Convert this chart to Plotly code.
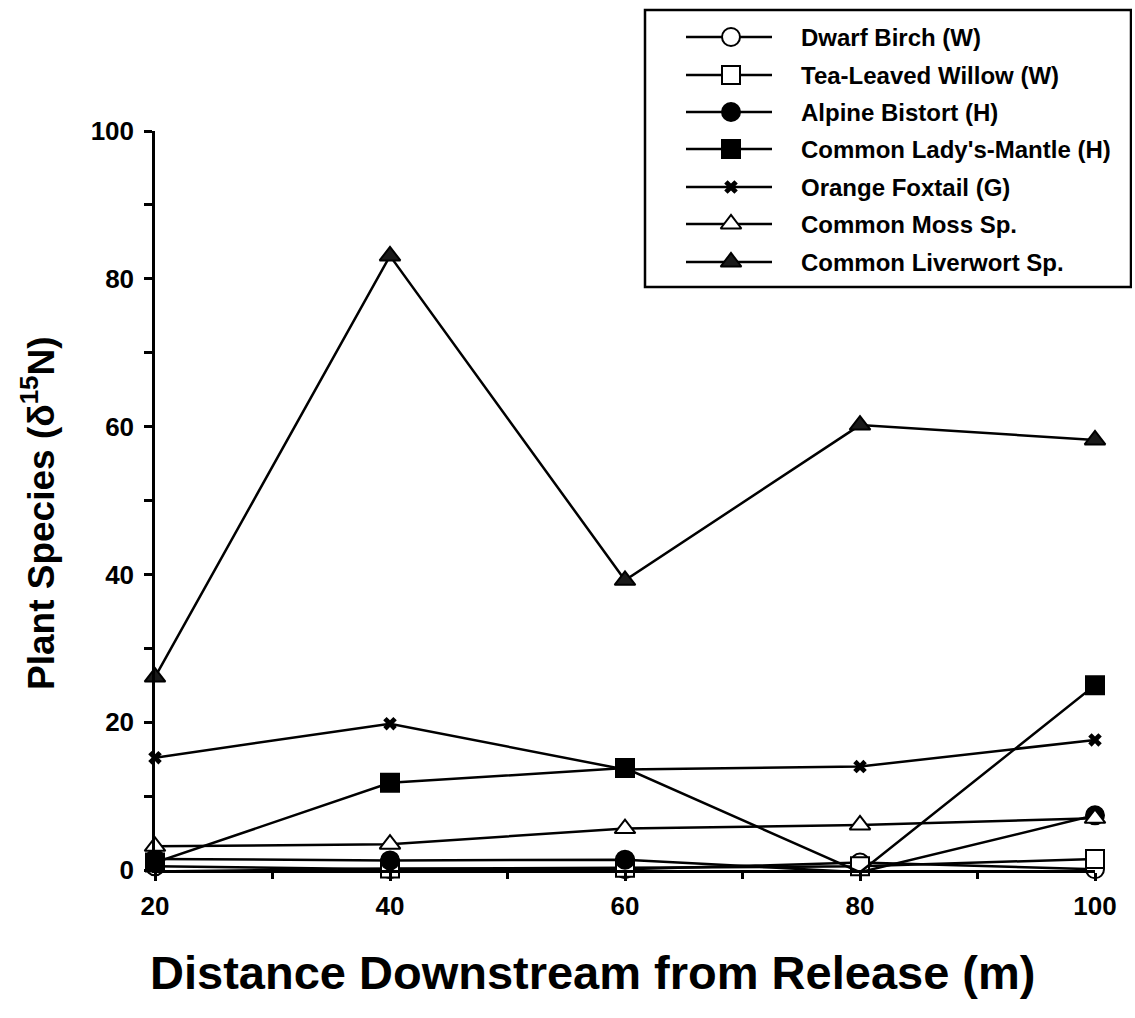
import plotly.graph_objects as go

# Distance downstream from the release point (m)
distance = [20, 40, 60, 80, 100]

# delta-15N values per plant species
dwarf_birch = [0.5, 0.1, 0.1, 1.0, 0.1]
tea_leaved_willow = [-0.2, 0.2, 0.3, 0.5, 1.5]
alpine_bistort = [1.5, 1.3, 1.4, -0.3, 7.4]
common_ladys_mantle = [1.0, 11.8, 13.8, -0.3, 25.0]
orange_foxtail = [15.2, 19.8, 13.6, 14.0, 17.6]
common_moss = [3.2, 3.5, 5.6, 6.1, 7.0]
common_liverwort = [26.1, 83.1, 39.2, 60.2, 58.2]

series_names = [
    "Dwarf Birch (W)",
    "Tea-Leaved Willow (W)",
    "Alpine Bistort (H)",
    "Common Lady's-Mantle (H)",
    "Orange Foxtail (G)",
    "Common Moss Sp.",
    "Common Liverwort Sp.",
]
series_values = [
    dwarf_birch,
    tea_leaved_willow,
    alpine_bistort,
    common_ladys_mantle,
    orange_foxtail,
    common_moss,
    common_liverwort,
]

x_ticks = [20, 40, 60, 80, 100]
y_ticks = [0, 20, 40, 60, 80, 100]

# marker styling: (symbol, fill, size, outline width)
styles = [
    ("circle", "white", 18, 2),
    ("square", "white", 18, 2),
    ("circle", "black", 18, 2),
    ("square", "black", 18, 2),
    ("x", "black", 12, 0),
    ("triangle-up", "white", 18, 2),
    ("triangle-up", "#1a1a1a", 18, 2),
]

FONT = "Liberation Sans, Arial, sans-serif"
W, H = 1135, 1018
# pixel frame of the overlay axes (their units are pixels)
L, R, T, B = 155, 3, 5, 148
plot_left, plot_right, plot_top, plot_bottom = 155, 1095, 131, 870

fig = go.Figure()

for name, vals, (sym, fill, size, lw) in zip(series_names, series_values, styles):
    fig.add_trace(go.Scatter(
        x=distance, y=vals, name=name, mode="lines+markers",
        line=dict(color="black", width=2.5),
        marker=dict(symbol=sym, color=fill, size=size, line=dict(color="black", width=lw)),
        cliponaxis=False, showlegend=False,
        xaxis="x", yaxis="y",
    ))

# legend drawn on the pixel-unit overlay axes
row_y = [37, 75, 112, 149, 187, 224, 262]
for name, ry, (sym, fill, size, lw) in zip(series_names, row_y, styles):
    fig.add_trace(go.Scatter(
        x=[686, 772], y=[ry, ry], mode="lines",
        line=dict(color="black", width=2.5),
        showlegend=False, hoverinfo="skip", cliponaxis=False,
        xaxis="x2", yaxis="y2",
    ))
    fig.add_trace(go.Scatter(
        x=[731], y=[ry], mode="markers",
        marker=dict(symbol=sym, color=fill, size=size, line=dict(color="black", width=lw)),
        showlegend=False, hoverinfo="skip", cliponaxis=False,
        xaxis="x2", yaxis="y2",
    ))
    fig.add_annotation(
        x=799, y=ry, xref="x2", yref="y2", text=name, showarrow=False,
        xanchor="left", yanchor="middle",
        font=dict(family=FONT, size=24, color="black", weight="bold"),
    )

fig.add_shape(
    type="rect", xref="x2", yref="y2", x0=645, x1=1131, y0=10, y1=287,
    line=dict(color="black", width=2.5), fillcolor="rgba(0,0,0,0)", layer="below",
)

frame_w = W - L - R
frame_h = H - T - B
x_dom = [(plot_left - L) / frame_w, (plot_right - L) / frame_w]
y_dom = [(H - B - plot_bottom) / frame_h, (H - B - plot_top) / frame_h]

tick_font = dict(family=FONT, size=26, color="black", weight="bold")

fig.update_layout(
    width=W, height=H,
    margin=dict(l=L, r=R, t=T, b=B, autoexpand=False),
    paper_bgcolor="white", plot_bgcolor="rgba(0,0,0,0)",
    showlegend=False,
    xaxis=dict(
        domain=x_dom, range=[20, 100], tickvals=x_ticks,
        ticks="outside", ticklen=8, tickwidth=2.5, tickcolor="black",
        minor=dict(dtick=10, tick0=0, ticks="outside", ticklen=6, tickwidth=2.5, tickcolor="black"),
        showline=True, linecolor="black", linewidth=2.5, showgrid=False, zeroline=False,
        tickfont=tick_font, ticklabelstandoff=3, automargin=False,
        anchor="y",
    ),
    yaxis=dict(
        domain=y_dom, range=[0, 100], tickvals=y_ticks,
        ticks="outside", ticklen=8, tickwidth=2.5, tickcolor="black",
        minor=dict(dtick=10, tick0=0, ticks="outside", ticklen=8, tickwidth=2.5, tickcolor="black"),
        showline=True, linecolor="black", linewidth=2.5, showgrid=False, zeroline=False,
        tickfont=tick_font, ticklabelstandoff=5, automargin=False,
        anchor="x",
    ),
    xaxis2=dict(domain=[0, 1], range=[L, W - R], visible=False, fixedrange=True,
                anchor="y2", automargin=False),
    yaxis2=dict(domain=[0, 1], range=[H - B, T], visible=False, fixedrange=True,
                anchor="x2", automargin=False),
)

# axis titles, placed in paper coordinates
def px_to_paper(px, py):
    return (px - L) / frame_w, (H - B - py) / frame_h

tx, ty = px_to_paper(592, 973)
fig.add_annotation(
    x=tx, y=ty, xref="paper", yref="paper", yanchor="middle", xanchor="center",
    text="Distance Downstream from Release (m)", showarrow=False,
    font=dict(family=FONT, size=47, color="black", weight="bold"),
)
tx, ty = px_to_paper(38, 513)
fig.add_annotation(
    x=tx, y=ty, xref="paper", yref="paper", xanchor="center", yanchor="middle",
    text="Plant Species (δ<sup>15</sup>N)", showarrow=False, textangle=-90,
    font=dict(family=FONT, size=37, color="black", weight="bold"),
)

fig.write_html("out.html")
